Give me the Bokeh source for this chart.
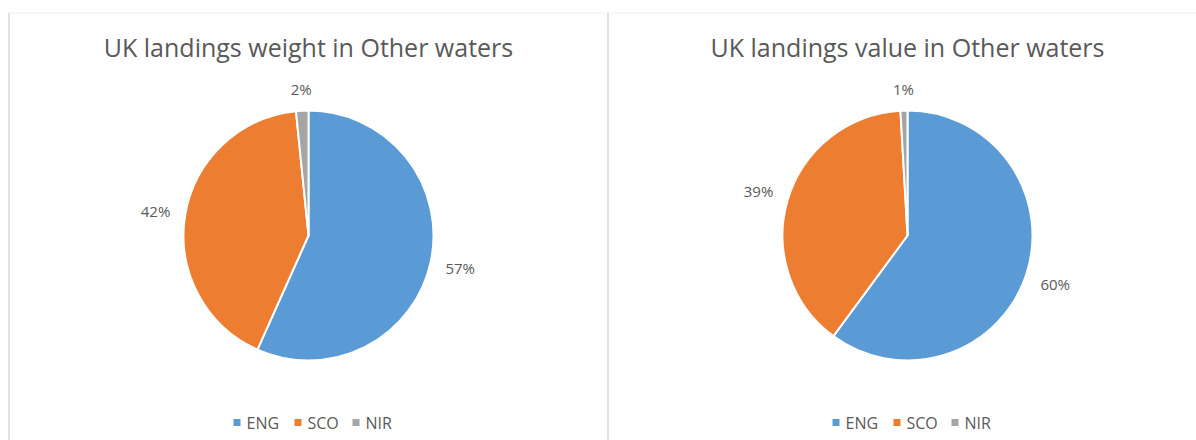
import math
from bokeh.plotting import figure
from bokeh.models import Range1d
from bokeh.core.properties import value
from bokeh.embed import file_html
from bokeh.resources import INLINE

# ---- data ----
categories = ["ENG", "SCO", "NIR"]
colors = ["#5B9BD5", "#ED7D31", "#A5A5A5"]
weight_share = [0.567, 0.417, 0.016]
value_share = [0.601, 0.390, 0.009]
weight_labels = ["57%", "42%", "2%"]
value_labels = ["60%", "39%", "1%"]
titles = ["UK landings weight in Other waters", "UK landings value in Other waters"]

# ---- layout (picture px) ----
W, H = 1196, 440
FONT = "Open Sans"
TXT = "#595959"


def sx(x):
    return x


def sy(y):
    return H - y


p = figure(width=W, height=H, x_range=Range1d(0, W), y_range=Range1d(0, H),
           output_backend="svg", toolbar_location=None, min_border=0,
           outline_line_color=None)
p.axis.visible = False
p.grid.visible = False
p.background_fill_color = "white"
p.border_fill_color = "white"

# frame lines
p.segment(x0=[sx(8.5), sx(8.5), sx(607.5)], y0=[sy(12.5), sy(12.5), sy(12.5)],
          x1=[sx(1196), sx(8.5), sx(607.5)], y1=[sy(12.5), sy(440), sy(440)],
          line_color=["#F0F0F0", "#D9D9D9", "#D9D9D9"], line_width=[1, 1.5, 1.5])

panels = [
    dict(cx=308, cy=235, share=weight_share, labels=weight_labels, title=titles[0], lx=233),
    dict(cx=907, cy=235, share=value_share, labels=value_labels, title=titles[1], lx=832),
]
R = 125
PAD = 14

for pn in panels:
    cx, cy = sx(pn["cx"]), sy(pn["cy"])
    share = pn["share"]
    total = sum(share)
    cum = 0.0
    starts, ends, mids = [], [], []
    for s in share:
        f0 = cum / total
        f1 = (cum + s) / total
        starts.append(math.pi / 2 - 2 * math.pi * f0)
        ends.append(math.pi / 2 - 2 * math.pi * f1)
        mids.append((f0 + f1) / 2)
        cum += s
    p.wedge(x=[cx] * 3, y=[cy] * 3, radius=R, start_angle=starts, end_angle=ends,
            direction="clock", fill_color=colors, line_color="white", line_width=2)
    # data labels outside end
    lxs, lys = [], []
    for lab, m in zip(pn["labels"], mids):
        th = 2 * math.pi * m
        dx, dy = math.sin(th), math.cos(th)
        hw = 5 * len(lab)
        d = R + PAD + hw * abs(dx) + 7 * abs(dy)
        lxs.append(cx + d * dx)
        lys.append(cy + d * dy)
    p.text(x=lxs, y=lys, text=pn["labels"], text_font=value(FONT), text_font_size="15px",
           text_color=TXT, text_align="center", text_baseline="middle")
    # title
    p.text(x=[cx], y=[sy(46)], text=[pn["title"]], text_font=value(FONT),
           text_font_size="25px", text_color=TXT, text_align="center", text_baseline="middle")
    # legend
    offs = [0, 61, 119]
    mx = [sx(pn["lx"] + o + 3.5) for o in offs]
    p.scatter(x=mx, y=[sy(422)] * 3, marker="square", size=7, fill_color=colors, line_color=None)
    p.text(x=[sx(pn["lx"] + o + 13) for o in offs], y=[sy(422)] * 3, text=categories,
           text_font=value(FONT), text_font_size="16px", text_color=TXT,
           text_align="left", text_baseline="middle")

open("out.html", "w").write(file_html(p, INLINE))
